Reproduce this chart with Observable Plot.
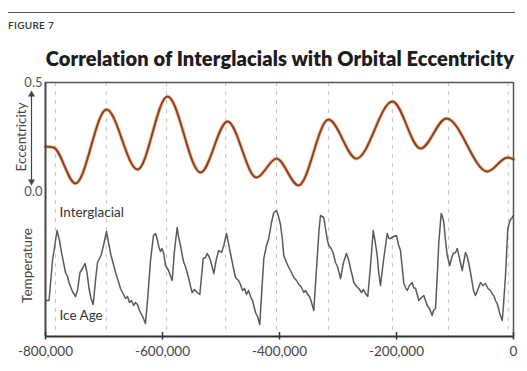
<!DOCTYPE html>
<html>
<head>
<meta charset="utf-8">
<script src="https://cdn.jsdelivr.net/npm/d3@7"></script>
<script src="https://cdn.jsdelivr.net/npm/@observablehq/plot@0.6"></script>
<style>
  html, body { margin: 0; padding: 0; background: #fff; }
  #wrap { position: relative; width: 527px; height: 371px; background: #fff; font-family: Lato, "Open Sans", sans-serif; overflow: hidden; }
  #rule { position: absolute; left: 8px; top: 12px; width: 507px; border-top: 1px solid #555; }
  #fig { position: absolute; left: 8px; top: 19px; font-size: 10px; color: #333; letter-spacing: 0.3px; font-weight: 600; }
  #title { position: absolute; left: 30px; width: 500px; top: 46px; text-align: center; font-size: 20px; font-weight: 800; color: #1d1d1d; white-space: nowrap; letter-spacing: 0.1px; }
  #top, #bottom { position: absolute; left: 0; }
  #top { top: 76px; }
  #bottom { top: 185px; }
</style>
</head>
<body>
<div id="wrap">
  <div id="rule"></div>
  <div id="fig">FIGURE 7</div>
  <div id="title">Correlation of Interglacials with Orbital Eccentricity</div>
  <div id="top"></div>
  <div id="bottom"></div>
</div>
<script>
// ---- data ----
const eccYears  = [-800000, -786300, -748700, -695700, -642700, -591500, -535000, -488900, -439300, -405100, -367500, -316200, -268400, -206800, -158900, -114500, -44400, -10300, 0];
const eccValues = [0.206, 0.202, 0.037, 0.376, 0.101, 0.436, 0.087, 0.321, 0.064, 0.151, 0.028, 0.330, 0.151, 0.413, 0.197, 0.335, 0.092, 0.156, 0.147];

const tempYears = [-798300, -794000, -788000, -780300, -776100, -772600, -769200, -765800, -762400, -759800, -757300, -753800, -748700, -745300, -741000, -735900, -732500, -729100, -725600, -722200, -718500, -714500, -711100, -705100, -700900, -695700, -692300, -688000, -683800, -680300, -676900, -671800, -668400, -663200, -659800, -656400, -653000, -649100, -646200, -642700, -639300, -635900, -632500, -629100, -625600, -620500, -615400, -612000, -608500, -606000, -603400, -600900, -597800, -594900, -589700, -583400, -579500, -574900, -572700, -569200, -565800, -563600, -560700, -555000, -552100, -549200, -545300, -540700, -536200, -530400, -526500, -523600, -520500, -517900, -512300, -507700, -503800, -499100, -495200, -490600, -487200, -483800, -478600, -475200, -470100, -466700, -463200, -459800, -456400, -453000, -449600, -446200, -441000, -437600, -433700, -430800, -426800, -422200, -418300, -413700, -409700, -405100, -401700, -398300, -394900, -392700, -388000, -384100, -379500, -375600, -370900, -367000, -363200, -358500, -355600, -351600, -348700, -346200, -341400, -335600, -332500, -329900, -324300, -321400, -317900, -315700, -311600, -308500, -304300, -300900, -295700, -290600, -285500, -282100, -278600, -275200, -273000, -268400, -264400, -259800, -256400, -253000, -249100, -244400, -239800, -236800, -233000, -230800, -227400, -222200, -215900, -212800, -210300, -205100, -200000, -196600, -193200, -189700, -187500, -184600, -181700, -177800, -173200, -170900, -167500, -164100, -161900, -157300, -153300, -150400, -147500, -143600, -139000, -136800, -133300, -129900, -127700, -123600, -121400, -119100, -116200, -113300, -108900, -106000, -103100, -99100, -96200, -92300, -87700, -84600, -82100, -79500, -76400, -73500, -70600, -68400, -65000, -61500, -56400, -52100, -47900, -43600, -39300, -35900, -33700, -30800, -27900, -23900, -19300, -17100, -13700, -9700, -6000, -2200, 0];
const tempValues = [3.6, 3.6, 7.6, 10.6, 9.6, 8.4, 7.4, 6.4, 6.0, 5.4, 5.0, 4.5, 4.0, 4.6, 6.4, 6.9, 7.3, 6.4, 4.8, 3.8, 3.2, 5.6, 7.4, 8.1, 9.1, 10.5, 9.4, 8.1, 7.2, 6.4, 5.8, 4.8, 4.4, 3.8, 4.0, 3.4, 3.6, 3.1, 3.4, 3.2, 2.6, 2.2, 1.8, 1.3, 3.6, 7.6, 10.1, 10.3, 9.6, 8.9, 8.5, 8.8, 8.3, 7.1, 6.6, 5.6, 8.6, 10.9, 10.0, 9.1, 8.0, 7.4, 7.0, 5.8, 5.0, 4.4, 4.7, 4.4, 4.2, 7.8, 7.9, 8.3, 8.0, 7.6, 6.3, 7.8, 8.6, 8.4, 9.1, 10.3, 9.3, 8.3, 6.8, 5.9, 5.6, 5.2, 4.6, 4.8, 4.2, 4.6, 4.0, 3.6, 2.4, 2.0, 1.2, 4.1, 7.8, 9.1, 9.8, 11.4, 12.4, 12.6, 12.0, 11.2, 9.6, 8.1, 7.4, 6.9, 6.4, 5.9, 5.6, 5.2, 5.0, 4.4, 4.6, 4.2, 4.0, 3.6, 2.6, 7.8, 10.6, 12.1, 11.9, 10.8, 9.6, 9.1, 8.8, 8.4, 7.4, 7.0, 5.8, 7.4, 8.3, 7.7, 6.8, 6.0, 5.4, 5.0, 4.8, 4.4, 4.7, 4.3, 4.0, 7.1, 10.6, 9.6, 8.1, 6.6, 5.1, 7.6, 10.3, 9.8, 9.8, 10.0, 10.1, 9.2, 8.6, 6.6, 5.3, 4.9, 4.6, 5.1, 5.4, 4.9, 4.8, 4.1, 3.6, 3.9, 4.1, 3.6, 3.1, 2.8, 2.1, 2.6, 2.8, 6.6, 9.4, 12.3, 12.0, 11.4, 9.6, 8.1, 7.1, 7.8, 8.3, 8.4, 8.8, 7.8, 6.6, 7.6, 8.4, 8.1, 7.3, 6.4, 5.4, 4.6, 4.1, 4.6, 5.4, 5.1, 5.3, 4.8, 4.6, 4.2, 4.1, 3.6, 3.3, 2.4, 1.6, 3.1, 6.1, 10.8, 11.6, 11.9, 12.1];

const gridYears = [-783000, -696000, -593000, -492000, -405000, -316000, -207000, -111000, -9000];
const xTicks = [-800000, -600000, -400000, -200000, 0];
const eccTicks = [0, 0.5];
const eccLabel = "Eccentricity";
const tempLabel = "Temperature";
const warmLabel = "Interglacial";
const coldLabel = "Ice Age";

// ---- tables built from the arrays ----
const ecc = eccYears.map((t, i) => ({t, e: eccValues[i]}));
const temp = tempYears.map((t, i) => ({t, v: tempValues[i]}));

const FONT = "Lato, 'Open Sans', sans-serif";
const W = 527;
const xDomain = [-800000, 0];
const fmt = d => (d < 0 ? "-" : "") + d3.format(",")(Math.abs(d));

const common = {
  width: W,
  marginLeft: 45,
  marginRight: 14,
  style: {background: "transparent", fontFamily: FONT, overflow: "visible"}
};

// ---- eccentricity panel ----
const topPlot = Plot.plot({
  ...common,
  height: 121,
  marginTop: 6,
  marginBottom: 6,
  x: {domain: xDomain, axis: null},
  y: {domain: [0, 0.5], axis: null},
  marks: [
    Plot.ruleX(gridYears, {stroke: "#c4c4c4", strokeWidth: 1, strokeDasharray: "4,5"}),
    Plot.line(ecc, {x: "t", y: "e", curve: "monotone-x", stroke: "#e9a06a", strokeWidth: 3.6, strokeOpacity: 0.7}),
    Plot.line(ecc, {x: "t", y: "e", curve: "monotone-x", stroke: "#8e3e1c", strokeWidth: 1.9}),
    Plot.ruleY([0.5], {stroke: "#555", strokeWidth: 1.5}),
    Plot.ruleX([xDomain[0]], {stroke: "#444", strokeWidth: 2}),
    Plot.ruleX([xDomain[1]], {stroke: "#555", strokeWidth: 1.5}),
    Plot.axisY(eccTicks, {tickSize: 0, tickPadding: 3, tickFormat: d3.format(".1f"), fontSize: 13, color: "#555", label: null}),
    Plot.ruleX([xDomain[0]], {y1: 0.05, y2: 0.44, dx: -14, stroke: "#444", strokeWidth: 1.2}),
    Plot.dot([0.445], {x: () => xDomain[0], y: d => d, dx: -14, symbol: "triangle", r: 2.6, fill: "#444", stroke: "none"}),
    Plot.dot([0.046], {x: () => xDomain[0], y: d => d, dx: -14, symbol: "triangle", r: 2.6, fill: "#444", stroke: "none", rotate: 180}),
    Plot.text([eccLabel], {x: () => xDomain[0], y: () => 0.25, dx: -24, rotate: -90, fontSize: 13.5, fill: "#444", text: d => d})
  ]
});
document.getElementById("top").append(topPlot);

// ---- temperature panel ----
const bottomPlot = Plot.plot({
  ...common,
  height: 181,
  marginTop: 6,
  marginBottom: 30,
  x: {domain: xDomain},
  y: {domain: [0, 14.5], axis: null},
  marks: [
    Plot.ruleX(gridYears, {stroke: "#c4c4c4", strokeWidth: 1, strokeDasharray: "4,5"}),
    Plot.line(temp, {x: "t", y: "v", stroke: "#5a5a5a", strokeWidth: 1.5, strokeLinejoin: "round"}),
    Plot.ruleX([xDomain[0]], {stroke: "#444", strokeWidth: 2}),
    Plot.ruleX([xDomain[1]], {stroke: "#555", strokeWidth: 1.5}),
    Plot.ruleY([0], {stroke: "#333", strokeWidth: 2}),
    Plot.ruleX(xTicks, {y1: -0.35, y2: 0.4, stroke: "#333", strokeWidth: 1.5}),
    Plot.axisX(xTicks, {tickSize: 0, tickPadding: 10, tickFormat: fmt, fontSize: 13.5, color: "#444", label: null}),
    Plot.text([warmLabel], {x: () => -776000, y: () => 12.4, textAnchor: "start", fontSize: 13.5, fill: "#333", text: d => d}),
    Plot.text([coldLabel], {x: () => -776000, y: () => 2.1, textAnchor: "start", fontSize: 13.5, fill: "#333", text: d => d}),
    Plot.text([tempLabel], {x: () => xDomain[0], y: () => 7.1, dx: -18, rotate: -90, fontSize: 13.5, fill: "#444", text: d => d})
  ]
});
document.getElementById("bottom").append(bottomPlot);
</script>
</body>
</html>
